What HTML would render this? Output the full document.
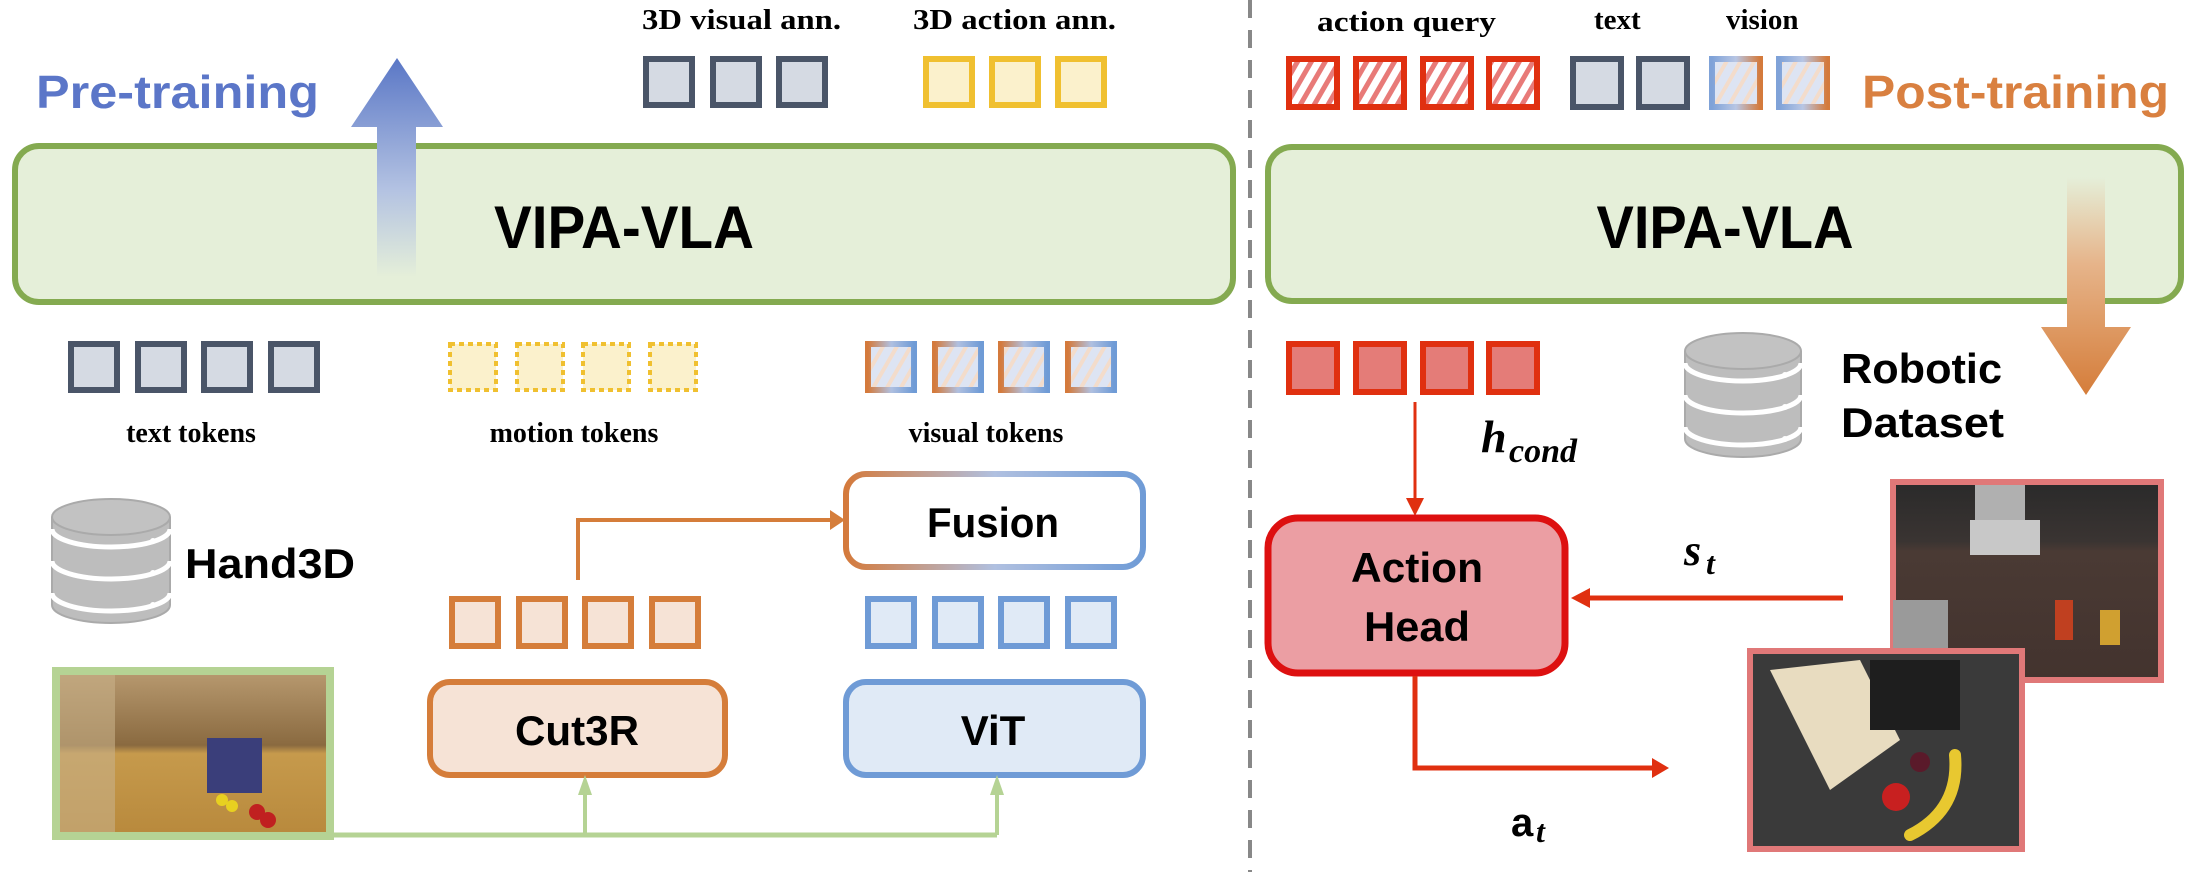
<!DOCTYPE html>
<html><head><meta charset="utf-8"><style>html,body{margin:0;padding:0;background:#fff}svg{display:block}</style></head>
<body>
<svg width="2201" height="872" viewBox="0 0 2201 872" xmlns="http://www.w3.org/2000/svg">
<defs>
<pattern id="hr" width="12" height="12" patternUnits="userSpaceOnUse" patternTransform="rotate(30)">
<rect width="12" height="12" fill="#fff"/><rect width="5" height="12" fill="#e87a78"/></pattern>
<pattern id="hv" width="12" height="12" patternUnits="userSpaceOnUse" patternTransform="rotate(30)">
<rect width="12" height="12" fill="#dde4f3"/><rect width="4" height="12" fill="#f3dccb"/></pattern>
<linearGradient id="gob" x1="0" x2="1" y1="0" y2="0"><stop offset="0" stop-color="#d47a3c"/><stop offset="0.5" stop-color="#b0c0e0"/><stop offset="1" stop-color="#6f9bd6"/></linearGradient>
<linearGradient id="gbo" x1="0" x2="1" y1="0" y2="0"><stop offset="0" stop-color="#7fa2d8"/><stop offset="0.5" stop-color="#b8c6e4"/><stop offset="1" stop-color="#d47a3c"/></linearGradient>
<linearGradient id="gup" x1="0" x2="0" y1="0" y2="1"><stop offset="0" stop-color="#5a77c6"/><stop offset="0.6" stop-color="#b3c2e2"/><stop offset="1" stop-color="#e5efd9"/></linearGradient>
<linearGradient id="gdn" x1="0" x2="0" y1="0" y2="1"><stop offset="0" stop-color="#e5efd9"/><stop offset="0.4" stop-color="#e6b48a"/><stop offset="1" stop-color="#d57d3a"/></linearGradient>
<linearGradient id="db" x1="0" x2="1"><stop offset="0" stop-color="#b8b8b8"/><stop offset="1" stop-color="#c8c8c8"/></linearGradient>
<linearGradient id="room" x1="0" x2="0" y1="0" y2="1"><stop offset="0" stop-color="#b89a70"/><stop offset="0.45" stop-color="#8a6a40"/><stop offset="0.5" stop-color="#c69a4c"/><stop offset="1" stop-color="#b8893c"/></linearGradient>
<linearGradient id="sim" x1="0" x2="0" y1="0" y2="1"><stop offset="0" stop-color="#2a2a2a"/><stop offset="0.3" stop-color="#3a3432"/><stop offset="0.35" stop-color="#4a3a34"/><stop offset="1" stop-color="#43332e"/></linearGradient>
</defs>

<!-- divider -->
<line x1="1250" y1="0" x2="1250" y2="872" stroke="#888" stroke-width="4" stroke-dasharray="18,12"/>

<!-- LEFT -->
<text x="36" y="108" font-family="Liberation Sans, sans-serif" font-weight="bold" font-size="46" fill="#5b76c8" textLength="283" lengthAdjust="spacingAndGlyphs">Pre-training</text>
<text x="642" y="29" font-family="Liberation Serif, serif" font-weight="bold" font-size="29" textLength="199" lengthAdjust="spacingAndGlyphs">3D visual ann.</text>
<text x="913" y="29" font-family="Liberation Serif, serif" font-weight="bold" font-size="29" textLength="203" lengthAdjust="spacingAndGlyphs">3D action ann.</text>
<g stroke="#4a5568" stroke-width="6" fill="#d5dae3">
<rect x="646" y="59" width="46" height="46"/><rect x="713" y="59" width="46" height="46"/><rect x="779" y="59" width="46" height="46"/></g>
<g stroke="#f0c030" stroke-width="6" fill="#fbf1cc">
<rect x="926" y="59" width="46" height="46"/><rect x="992" y="59" width="46" height="46"/><rect x="1058" y="59" width="46" height="46"/></g>

<rect x="15" y="146" width="1218" height="156" rx="24" fill="#e5efd9" stroke="#84aa50" stroke-width="6"/>
<polygon points="377,127 377,277 416,277 416,127 443,127 397,58 351,127" fill="url(#gup)"/>
<text x="624" y="248" text-anchor="middle" font-family="Liberation Sans, sans-serif" font-weight="bold" font-size="60" textLength="260" lengthAdjust="spacingAndGlyphs">VIPA-VLA</text>

<g stroke="#4a5568" stroke-width="6" fill="#d5dae3">
<rect x="71" y="344" width="46" height="46"/><rect x="138" y="344" width="46" height="46"/><rect x="204" y="344" width="46" height="46"/><rect x="271" y="344" width="46" height="46"/></g>
<g stroke="#f0c030" stroke-width="4" stroke-dasharray="5,4" fill="#fbf1cc">
<rect x="450" y="344" width="46" height="46"/><rect x="517" y="344" width="46" height="46"/><rect x="583" y="344" width="46" height="46"/><rect x="650" y="344" width="46" height="46"/></g>
<g stroke="url(#gob)" stroke-width="6" fill="url(#hv)">
<rect x="868" y="344" width="46" height="46"/><rect x="935" y="344" width="46" height="46"/><rect x="1001" y="344" width="46" height="46"/><rect x="1068" y="344" width="46" height="46"/></g>
<g font-family="Liberation Serif, serif" font-weight="bold" font-size="28" text-anchor="middle">
<text x="191" y="442">text tokens</text><text x="574" y="442">motion tokens</text><text x="986" y="442">visual tokens</text></g>

<!-- Hand3D db -->
<g transform="translate(52,499)">
<path d="M0,18 v88 a59,18 0 0 0 118,0 v-88" fill="#bdbdbd" stroke="#aaa" stroke-width="2"/>
<ellipse cx="59" cy="18" rx="59" ry="18" fill="#c2c2c2" stroke="#aaa" stroke-width="2"/>
<path d="M0,30 a59,18 0 0 0 118,0" fill="none" stroke="#fff" stroke-width="5"/>
<path d="M0,62 a59,18 0 0 0 118,0" fill="none" stroke="#fff" stroke-width="5"/>
<path d="M0,94 a59,18 0 0 0 118,0" fill="none" stroke="#fff" stroke-width="5"/>
<circle cx="101" cy="42" r="3" fill="#fff"/><circle cx="101" cy="74" r="3" fill="#fff"/><circle cx="101" cy="106" r="3" fill="#fff"/>
</g>
<text x="185" y="578" font-family="Liberation Sans, sans-serif" font-weight="bold" font-size="42" textLength="170" lengthAdjust="spacingAndGlyphs">Hand3D</text>

<!-- Fusion -->
<rect x="846" y="474" width="297" height="93" rx="20" fill="#fff" stroke="url(#gob)" stroke-width="6"/>
<text x="993" y="537" text-anchor="middle" font-family="Liberation Sans, sans-serif" font-weight="bold" font-size="42" textLength="132" lengthAdjust="spacingAndGlyphs">Fusion</text>
<polyline points="578,580 578,520 832,520" fill="none" stroke="#d57d3a" stroke-width="4"/>
<polygon points="830,510 845,520 830,530" fill="#d57d3a"/>

<g stroke="#d57d3a" stroke-width="6" fill="#f6e3d6">
<rect x="452" y="599" width="46" height="47"/><rect x="519" y="599" width="46" height="47"/><rect x="585" y="599" width="46" height="47"/><rect x="652" y="599" width="46" height="47"/></g>
<g stroke="#6f9bd6" stroke-width="6" fill="#e0eaf6">
<rect x="868" y="599" width="46" height="47"/><rect x="935" y="599" width="46" height="47"/><rect x="1001" y="599" width="46" height="47"/><rect x="1068" y="599" width="46" height="47"/></g>

<rect x="430" y="682" width="295" height="93" rx="20" fill="#f6e3d6" stroke="#d57d3a" stroke-width="6"/>
<text x="577" y="745" text-anchor="middle" font-family="Liberation Sans, sans-serif" font-weight="bold" font-size="42" textLength="124" lengthAdjust="spacingAndGlyphs">Cut3R</text>
<rect x="846" y="682" width="297" height="93" rx="20" fill="#e0eaf6" stroke="#6f9bd6" stroke-width="6"/>
<text x="993" y="745" text-anchor="middle" font-family="Liberation Sans, sans-serif" font-weight="bold" font-size="42">ViT</text>

<!-- photo -->
<rect x="56" y="671" width="274" height="165" fill="url(#room)" stroke="#b5d394" stroke-width="8"/>
<rect x="60" y="675" width="55" height="157" fill="#c8b088" opacity="0.6"/>
<rect x="207" y="738" width="55" height="55" fill="#3a3e7a"/>
<circle cx="222" cy="800" r="6" fill="#e8d020"/><circle cx="232" cy="806" r="6" fill="#e8d020"/>
<circle cx="257" cy="812" r="8" fill="#c02020"/><circle cx="268" cy="820" r="8" fill="#c02020"/>
<polyline points="333,835 997,835" fill="none" stroke="#b5d394" stroke-width="5"/>
<line x1="585" y1="835" x2="585" y2="790" stroke="#b5d394" stroke-width="4"/>
<polygon points="578,795 585,775 592,795" fill="#b5d394"/>
<line x1="997" y1="835" x2="997" y2="790" stroke="#b5d394" stroke-width="4"/>
<polygon points="990,795 997,775 1004,795" fill="#b5d394"/>

<!-- RIGHT -->
<text x="1317" y="31" font-family="Liberation Serif, serif" font-weight="bold" font-size="29" textLength="179" lengthAdjust="spacingAndGlyphs">action query</text>
<text x="1594" y="29" font-family="Liberation Serif, serif" font-weight="bold" font-size="29">text</text>
<text x="1726" y="29" font-family="Liberation Serif, serif" font-weight="bold" font-size="29">vision</text>
<g stroke="#e03010" stroke-width="6" fill="url(#hr)">
<rect x="1289" y="59" width="48" height="48"/><rect x="1356" y="59" width="48" height="48"/><rect x="1423" y="59" width="48" height="48"/><rect x="1489" y="59" width="48" height="48"/></g>
<g stroke="#4a5568" stroke-width="6" fill="#d5dae3">
<rect x="1573" y="59" width="48" height="48"/><rect x="1639" y="59" width="48" height="48"/></g>
<g stroke="url(#gbo)" stroke-width="6" fill="url(#hv)">
<rect x="1712" y="59" width="48" height="48"/><rect x="1779" y="59" width="48" height="48"/></g>
<text x="1862" y="108" font-family="Liberation Sans, sans-serif" font-weight="bold" font-size="46" fill="#d98040" textLength="307" lengthAdjust="spacingAndGlyphs">Post-training</text>

<rect x="1268" y="147" width="913" height="154" rx="24" fill="#e5efd9" stroke="#84aa50" stroke-width="6"/>
<text x="1725" y="248" text-anchor="middle" font-family="Liberation Sans, sans-serif" font-weight="bold" font-size="60" textLength="257" lengthAdjust="spacingAndGlyphs">VIPA-VLA</text>
<polygon points="2067,177 2105,177 2105,327 2131,327 2086,395 2041,327 2067,327" fill="url(#gdn)"/>

<g stroke="#e03010" stroke-width="6" fill="#e47c78">
<rect x="1289" y="344" width="48" height="48"/><rect x="1356" y="344" width="48" height="48"/><rect x="1423" y="344" width="48" height="48"/><rect x="1489" y="344" width="48" height="48"/></g>

<g transform="translate(1685,333)">
<path d="M0,18 v88 a58,18 0 0 0 116,0 v-88" fill="#bdbdbd" stroke="#aaa" stroke-width="2"/>
<ellipse cx="58" cy="18" rx="58" ry="18" fill="#c2c2c2" stroke="#aaa" stroke-width="2"/>
<path d="M0,30 a58,18 0 0 0 116,0" fill="none" stroke="#fff" stroke-width="5"/>
<path d="M0,62 a58,18 0 0 0 116,0" fill="none" stroke="#fff" stroke-width="5"/>
<path d="M0,94 a58,18 0 0 0 116,0" fill="none" stroke="#fff" stroke-width="5"/>
<circle cx="100" cy="42" r="3" fill="#fff"/><circle cx="100" cy="74" r="3" fill="#fff"/><circle cx="100" cy="106" r="3" fill="#fff"/>
</g>
<text x="1841" y="383" font-family="Liberation Sans, sans-serif" font-weight="bold" font-size="42" textLength="161" lengthAdjust="spacingAndGlyphs">Robotic</text>
<text x="1841" y="437" font-family="Liberation Sans, sans-serif" font-weight="bold" font-size="42" textLength="163" lengthAdjust="spacingAndGlyphs">Dataset</text>

<line x1="1415" y1="402" x2="1415" y2="500" stroke="#e03010" stroke-width="3"/>
<polygon points="1406,498 1415,516 1424,498" fill="#e03010"/>
<text x="1481" y="452" font-family="Liberation Serif, serif" font-weight="bold" font-style="italic" font-size="46">h</text>
<text x="1509" y="462" font-family="Liberation Serif, serif" font-weight="bold" font-style="italic" font-size="34">cond</text>

<rect x="1268" y="518" width="297" height="155" rx="30" fill="#eb9ea3" stroke="#dd1010" stroke-width="7"/>
<text x="1417" y="582" text-anchor="middle" font-family="Liberation Sans, sans-serif" font-weight="bold" font-size="42" textLength="132" lengthAdjust="spacingAndGlyphs">Action</text>
<text x="1417" y="641" text-anchor="middle" font-family="Liberation Sans, sans-serif" font-weight="bold" font-size="42" textLength="106" lengthAdjust="spacingAndGlyphs">Head</text>

<text x="1684" y="565" font-family="Liberation Serif, serif" font-weight="bold" font-style="italic" font-size="44">s</text>
<text x="1706" y="574" font-family="Liberation Serif, serif" font-weight="bold" font-style="italic" font-size="32">t</text>
<line x1="1843" y1="598" x2="1585" y2="598" stroke="#e03010" stroke-width="5"/>
<polygon points="1590,588 1571,598 1590,608" fill="#e03010"/>

<polyline points="1415,676 1415,768 1655,768" fill="none" stroke="#e03010" stroke-width="5"/>
<polygon points="1652,758 1669,768 1652,778" fill="#e03010"/>
<text x="1511" y="836" font-family="Liberation Sans, sans-serif" font-weight="bold" font-size="40">a</text>
<text x="1536" y="842" font-family="Liberation Serif, serif" font-weight="bold" font-style="italic" font-size="32">t</text>

<!-- sim image -->
<rect x="1893" y="482" width="268" height="198" fill="url(#sim)" stroke="#e07878" stroke-width="6"/>
<rect x="1975" y="485" width="50" height="60" fill="#b0b0b0"/>
<rect x="1970" y="520" width="70" height="35" fill="#c8c8c8"/>
<rect x="1893" y="600" width="55" height="48" fill="#9a9a9a"/>
<rect x="2055" y="600" width="18" height="40" fill="#c04020"/>
<rect x="2100" y="610" width="20" height="35" fill="#d0a030"/>
<!-- kitchen image -->
<rect x="1750" y="651" width="272" height="198" fill="#3a3a3a" stroke="#e07878" stroke-width="6"/>
<polygon points="1770,670 1860,660 1900,740 1830,790" fill="#e8dcc0"/>
<rect x="1870" y="660" width="90" height="70" fill="#1e1e1e"/>
<circle cx="1896" cy="797" r="14" fill="#c82020"/>
<circle cx="1920" cy="762" r="10" fill="#5a1a2a"/>
<path d="M1910,835 Q1960,810 1955,755" fill="none" stroke="#e8c830" stroke-width="12" stroke-linecap="round"/>
</svg>
</body></html>
